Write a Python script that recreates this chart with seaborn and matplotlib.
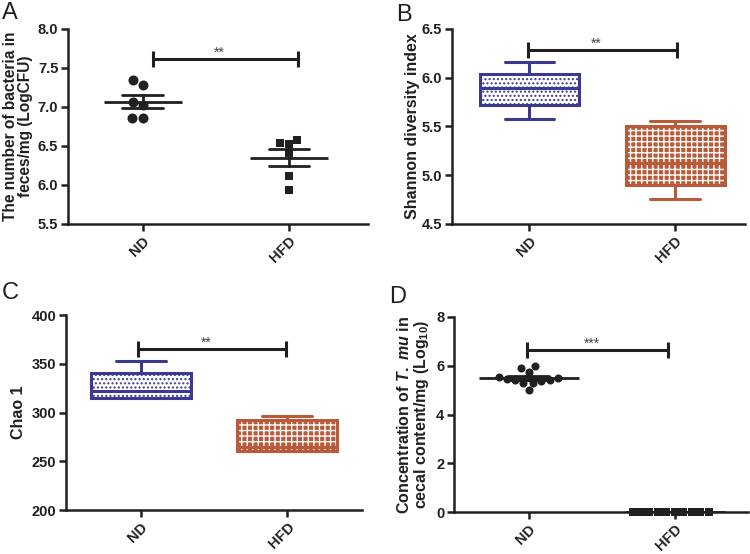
import numpy as np
import pandas as pd
import matplotlib
matplotlib.use("Agg")
import matplotlib.pyplot as plt
import seaborn as sns
from matplotlib.patches import PathPatch

sns.set_theme(style="ticks")
plt.rcParams["font.family"] = ["Liberation Sans", "DejaVu Sans"]
plt.rcParams["font.weight"] = "bold"
plt.rcParams["axes.labelweight"] = "bold"
plt.rcParams["mathtext.fontset"] = "custom"
plt.rcParams["mathtext.rm"] = "Liberation Sans:bold"
plt.rcParams["mathtext.it"] = "Liberation Sans:italic:bold"
plt.rcParams["mathtext.bf"] = "Liberation Sans:bold"
plt.rcParams["hatch.linewidth"] = 1.0

# ---------------- data ----------------
groups = ["ND", "HFD"]
bact_nd = [7.34, 7.28, 7.06, 7.02, 6.86, 6.86]
bact_hfd = [6.58, 6.54, 6.53, 6.41, 6.11, 5.94]
shannon_nd = [5.58, 5.72, 5.89, 6.035, 6.165]
shannon_hfd = [4.76, 4.90, 5.13, 5.50, 5.556]
chao_nd = [315.0, 315.2, 322.0, 340.2, 353.1]
chao_hfd = [260.8, 260.9, 264.3, 292.3, 296.4]
tmu_nd = [5.98, 5.90, 5.75, 5.55, 5.50, 5.45, 5.42, 5.40, 5.38, 5.30, 5.28, 5.02]
tmu_hfd = [0, 0, 0, 0, 0, 0, 0, 0, 0, 0]

ND_COLOR = "#3b3990"
HFD_COLOR = "#b95a3a"
INK = "#231f20"


def long_df(nd, hfd):
    return pd.DataFrame({"group": ["ND"] * len(nd) + ["HFD"] * len(hfd),
                         "value": list(nd) + list(hfd)})


fig = plt.figure(figsize=(7.5, 5.54), dpi=100)
axA = fig.add_axes([0.0907, 0.5957, 0.400, 0.352])
axB = fig.add_axes([0.6027, 0.5957, 0.3907, 0.352])
axC = fig.add_axes([0.0880, 0.0794, 0.3947, 0.352])
axD = fig.add_axes([0.6053, 0.0758, 0.3920, 0.352])


def style_axes(ax, yticks, fmt, xlim):
    sns.despine(ax=ax)
    for s in ["left", "bottom"]:
        ax.spines[s].set_linewidth(1.8)
        ax.spines[s].set_color(INK)
    ax.tick_params(axis="both", length=5, width=1.8, color=INK, labelsize=10.5,
                   labelcolor=INK, pad=2)
    ax.set_yticks(yticks)
    ax.set_yticklabels([fmt.format(v) for v in yticks], fontweight="bold")
    ax.set_ylim(yticks[0], yticks[-1])
    ax.set_xlim(*xlim)
    ax.set_xticks([0, 1])
    ax.set_xticklabels(groups, rotation=45, ha="right", va="top",
                       rotation_mode="anchor", fontweight="bold")
    ax.set_xlabel("")


def sig_bar(ax, x0, x1, y, text, cap):
    ax.plot([x0, x1], [y, y], color=INK, lw=2.2, marker="|", markersize=cap,
            mew=2.2, solid_capstyle="butt", clip_on=False)
    ax.text((x0 + x1) / 2 - 0.04, y, text, ha="center", va="bottom",
            fontsize=10, fontweight="normal", color="#444444")


def dot_plot(ax, nd, hfd, msize_o, msize_s, mean_w, capsize):
    df = long_df(nd, hfd)
    sns.swarmplot(data=df[df.group == "ND"], x="group", y="value", order=groups,
                  color=INK, marker="o", size=msize_o, ax=ax, clip_on=False)
    sns.swarmplot(data=df[df.group == "HFD"], x="group", y="value", order=groups,
                  color=INK, marker="s", size=msize_s, ax=ax, clip_on=False)
    sns.pointplot(data=df, x="group", y="value", order=groups, errorbar="se",
                  capsize=capsize, color=INK, marker="_", markersize=mean_w,
                  markeredgewidth=2.0, linestyle="none",
                  err_kws={"linewidth": 2.0}, ax=ax)


def box_plot(ax, nd, hfd):
    df = long_df(nd, hfd)
    sns.boxplot(data=df, x="group", y="value", order=groups, hue="group",
                hue_order=groups, palette=[ND_COLOR, HFD_COLOR], fill=True,
                whis=(0, 100), width=0.68, linewidth=2.2, legend=False, ax=ax)
    boxes = [p for p in ax.patches if isinstance(p, PathPatch)]
    boxes = sorted(boxes, key=lambda p: p.get_path().get_extents().x0)
    nd_box, hfd_box = boxes[0], boxes[1]
    nd_box.set_facecolor("white")
    nd_box.set_edgecolor(ND_COLOR)
    nd_box.set_hatch("....")
    nd_box.set_linewidth(2.2)
    hfd_box.set_facecolor(HFD_COLOR)
    hfd_box.set_edgecolor("white")
    hfd_box.set_linewidth(0.3)
    hfd_box.set_hatch("+++")
    outline = PathPatch(hfd_box.get_path(), transform=hfd_box.get_transform(),
                        facecolor="none", edgecolor=HFD_COLOR, lw=2.2,
                        zorder=hfd_box.get_zorder() + 0.5)
    ax.add_patch(outline)
    for ln in ax.lines:
        xd = np.asarray(ln.get_xdata(), dtype=float)
        if xd.size == 0:
            continue
        ln.set_color(ND_COLOR if np.nanmean(xd) < 0.5 else HFD_COLOR)
        ln.set_linewidth(2.2)
        ln.set_zorder(hfd_box.get_zorder() + 1)


# ---- A ----
dot_plot(axA, bact_nd, bact_hfd, 7.2, 6.4, 56, 0.28)
style_axes(axA, [5.5, 6.0, 6.5, 7.0, 7.5, 8.0], "{:.1f}", (-0.51, 1.54))
axA.set_ylabel("The number of bacteria in\nfeces/mg (LogCFU)", fontsize=11.2,
               color=INK, linespacing=1.0)
axA.yaxis.set_label_coords(-0.117, 0.5)
sig_bar(axA, 0.07, 1.06, 7.61, "**", 11)

# ---- B ----
box_plot(axB, shannon_nd, shannon_hfd)
style_axes(axB, [4.5, 5.0, 5.5, 6.0, 6.5], "{:.1f}", (-0.53, 1.48))
axB.set_ylabel("Shannon diversity index", fontsize=11.5, color=INK)
axB.yaxis.set_label_coords(-0.109, 0.5)
sig_bar(axB, -0.01, 1.01, 6.28, "**", 11)

# ---- C ----
box_plot(axC, chao_nd, chao_hfd)
style_axes(axC, [200, 250, 300, 350, 400], "{:.0f}", (-0.51, 1.51))
axC.set_ylabel("Chao 1", fontsize=11.5, color=INK)
axC.yaxis.set_label_coords(-0.135, 0.5)
sig_bar(axC, -0.02, 0.99, 364.8, "**", 11)

# ---- D ----
dot_plot(axD, tmu_nd, tmu_hfd, 5.8, 5.8, 72, 0.28)
style_axes(axD, [0, 2, 4, 6, 8], "{:.0f}", (-0.51, 1.50))
axD.set_ylabel("Concentration of $\\mathit{T.\\ mu}$ in\n"
               "cecal content/mg (Log$_{10}$)", fontsize=11.5, color=INK,
               linespacing=1.0)
axD.yaxis.set_label_coords(-0.078, 0.5)
sig_bar(axD, -0.01, 0.95, 6.63, "***", 11)

# panel letters
for lab, x, y in [("A", 2, 2), ("B", 396, 4), ("C", 2, 282), ("D", 389, 286)]:
    fig.text(x / 750, 1 - y / 554, lab, ha="left", va="top", fontsize=17,
             fontweight="normal", color=INK)

fig.savefig("out.png", dpi=100)
